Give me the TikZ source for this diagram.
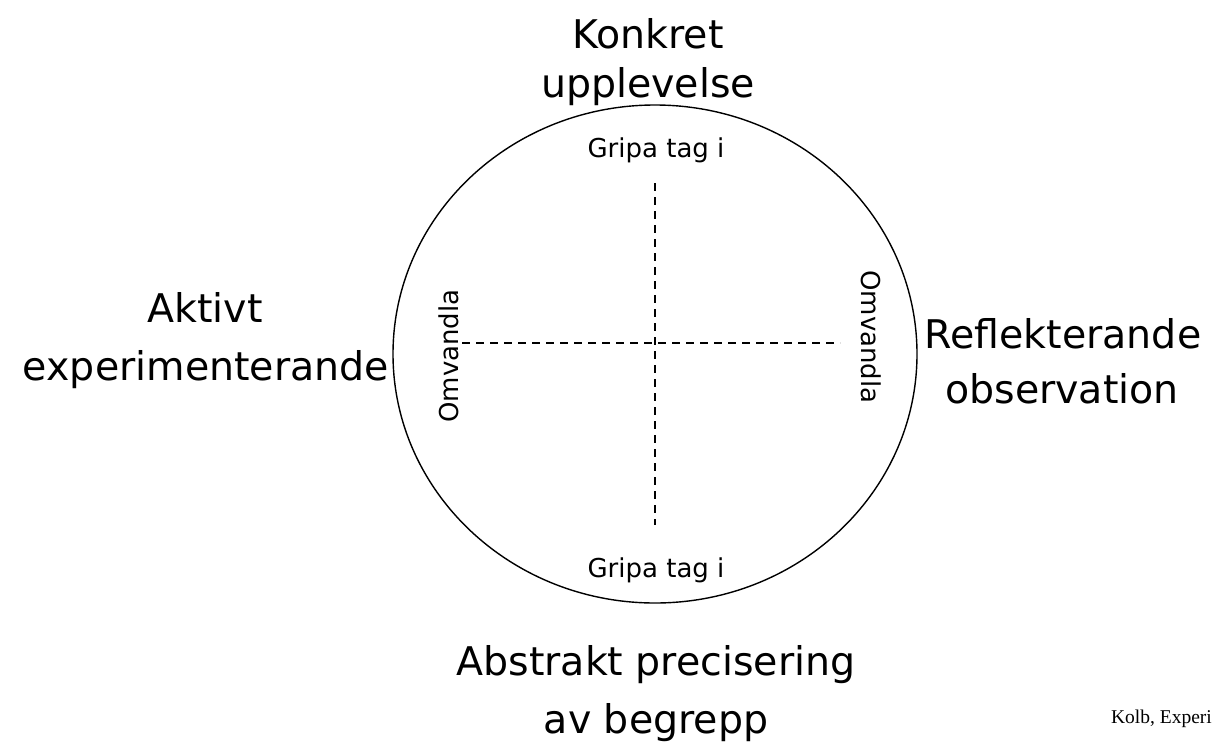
\documentclass[tikz,border=0pt]{standalone}
\usepackage{fontspec}
\usetikzlibrary{shapes.geometric}
\setmainfont{DejaVu Sans}
\newfontfamily\kolbfont{Liberation Serif}
\begin{document}
\begin{tikzpicture}[x=1pt,y=-1pt,
  big/.style={anchor=base,inner sep=0pt,font=\fontsize{39.5}{47}\selectfont},
  small/.style={anchor=base,inner sep=0pt,font=\fontsize{26}{31}\selectfont},
  axis/.style={line width=1.3pt,dash pattern=on 8pt off 6pt},
  ring/.style={line width=1.4pt}]
\useasboundingbox (0,0) rectangle (1212,750);
% circle
\node[ring,draw,ellipse,minimum width=524pt,minimum height=498pt,inner sep=0pt] (c) at (655,354) {};
% axes
\coordinate (vt) at (655,183);
\coordinate (vb) at (655,525);
\coordinate (hl) at (462,343);
\coordinate (hr) at (840,343);
\draw[axis] (vt) -- (vb);
\draw[axis] (hl) -- (hr);
% big labels
\node[big] (k1) at (648,48) {Konkret};
\node[big] (k2) at (648,97) {upplevelse};
\node[big] (a1) at (205,322) {Aktivt};
\node[big] (a2) at (206,380) {experimenterande};
\node[big] (r1) at (1063,348) {Reflekterande};
\node[big] (r2) at (1062,403) {observation};
\node[big] (b1) at (656,675) {Abstrakt precisering};
\node[big] (b2) at (656,733) {av begrepp};
% small labels
\node[small] (g1) at (656,157) {Gripa tag i};
\node[small] (g2) at (656,577) {Gripa tag i};
\node[small,rotate=90] (o1) at (458,356) {Omvandla};
\node[small,rotate=-90] (o2) at (861,337) {Omvandla};
% source
\node[anchor=base east,inner sep=0pt,font=\kolbfont\fontsize{19.5}{23}\selectfont] (src) at (1212,723) {Kolb, Experi};
\end{tikzpicture}
\end{document}
